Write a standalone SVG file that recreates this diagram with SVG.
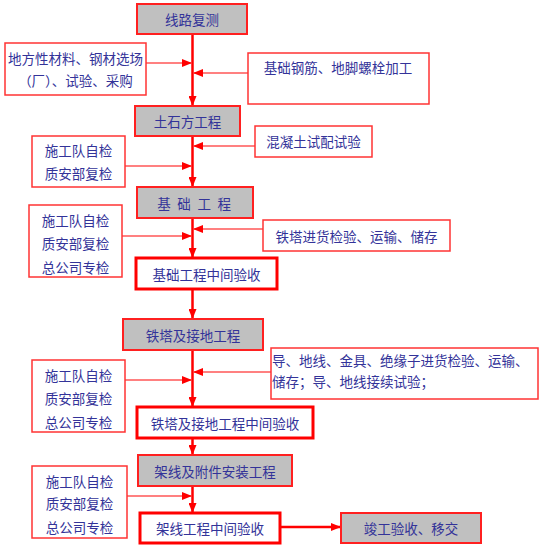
<svg xmlns="http://www.w3.org/2000/svg" width="542" height="547" viewBox="0 0 542 547">
<defs>
<marker id="ah" markerWidth="10" markerHeight="8" refX="9" refY="4" orient="auto" markerUnits="userSpaceOnUse">
<path d="M0,0 L10,4 L0,8 Z" fill="#ff0000"/>
</marker>
</defs>
<style>
text{font-family:"Noto Sans CJK SC","Noto Sans",sans-serif;font-size:13.5px;fill:#333399;dominant-baseline:central}
.c{text-anchor:middle}
.g{fill:#c0c0c0;stroke:#ff2020;stroke-width:2}
.m{fill:#ffffff;stroke:#ff0000;stroke-width:3}
.s{fill:#ffffff;stroke:#ff3333;stroke-width:1.5}
.main{stroke:#ff0000;stroke-width:2.5;fill:none}
.side{stroke:#ff8080;stroke-width:2;fill:none}
</style>
<rect width="542" height="547" fill="#ffffff"/>
<g id="connectors">
<line class="main" x1="192.5" y1="34" x2="192.5" y2="105" marker-end="url(#ah)"/>
<line class="main" x1="192.5" y1="136" x2="192.5" y2="186" marker-end="url(#ah)"/>
<line class="main" x1="192.5" y1="218" x2="192.5" y2="257" marker-end="url(#ah)"/>
<line class="main" x1="192.5" y1="290" x2="192.5" y2="318" marker-end="url(#ah)"/>
<line class="main" x1="192.5" y1="350" x2="192.5" y2="406" marker-end="url(#ah)"/>
<line class="main" x1="192.5" y1="438" x2="192.5" y2="454" marker-end="url(#ah)"/>
<line class="main" x1="192.5" y1="486" x2="192.5" y2="512" marker-end="url(#ah)"/>
<line class="main" x1="280" y1="527" x2="340" y2="527" marker-end="url(#ah)"/>
<line class="side" x1="146" y1="63" x2="191" y2="63" marker-end="url(#ah)"/>
<line class="side" x1="248" y1="73" x2="194" y2="73" marker-end="url(#ah)"/>
<line class="side" x1="255" y1="146" x2="194" y2="146" marker-end="url(#ah)"/>
<line class="side" x1="125" y1="166" x2="191" y2="166" marker-end="url(#ah)"/>
<line class="side" x1="122" y1="236" x2="191" y2="236" marker-end="url(#ah)"/>
<line class="side" x1="263" y1="229" x2="194" y2="229" marker-end="url(#ah)"/>
<line class="side" x1="125" y1="380" x2="191" y2="380" marker-end="url(#ah)"/>
<line class="side" x1="271" y1="372" x2="194" y2="372" marker-end="url(#ah)"/>
<line class="side" x1="127" y1="496" x2="191" y2="496" marker-end="url(#ah)"/>
</g>
<g id="n1"><rect class="g" x="137" y="4" width="110" height="30"/><text class="c" x="192" y="19">线路复测</text></g>
<g id="n2"><rect class="s" x="5" y="43" width="141" height="52"/><text class="c" x="75.5" y="58">地方性材料、钢材选场</text><text class="c" x="75.5" y="80">（厂）、试验、采购</text></g>
<g id="n3"><rect class="s" x="248" y="53" width="181" height="51"/><text class="c" x="338" y="67">基础钢筋、地脚螺栓加工</text></g>
<g id="n4"><rect class="g" x="135" y="106" width="105" height="30"/><text class="c" x="187.5" y="121">土石方工程</text></g>
<g id="n5"><rect class="s" x="255" y="126" width="117" height="31"/><text class="c" x="313.5" y="141">混凝土试配试验</text></g>
<g id="n6"><rect class="s" x="32" y="136" width="93" height="51"/><text class="c" x="78.5" y="150">施工队自检</text><text class="c" x="78.5" y="173">质安部复检</text></g>
<g id="n7"><rect class="g" x="137" y="187" width="116" height="31"/><text class="c" x="195" y="202.5" style="letter-spacing:1.8px">基 础 工 程</text></g>
<g id="n8"><rect class="s" x="29" y="205" width="93" height="72"/><text class="c" x="75.5" y="220">施工队自检</text><text class="c" x="75.5" y="243">质安部复检</text><text class="c" x="75.5" y="267">总公司专检</text></g>
<g id="n9"><rect class="s" x="263" y="220" width="187" height="31"/><text class="c" x="356.5" y="235.5">铁塔进货检验、运输、储存</text></g>
<g id="n10"><rect class="m" x="136" y="258" width="141" height="31"/><text class="c" x="206.5" y="274">基础工程中间验收</text></g>
<g id="n11"><rect class="g" x="123" y="319" width="140" height="31"/><text class="c" x="193" y="334.5">铁塔及接地工程</text></g>
<g id="n12"><rect class="s" x="271" y="348" width="267" height="51"/><text x="272" y="360">导、地线、金具、绝缘子进货检验、运输、</text><text x="272" y="381">储存；导、地线接续试验；</text></g>
<g id="n13"><rect class="s" x="32" y="360" width="93" height="72"/><text class="c" x="78.5" y="375">施工队自检</text><text class="c" x="78.5" y="398">质安部复检</text><text class="c" x="78.5" y="422">总公司专检</text></g>
<g id="n14"><rect class="m" x="137" y="407" width="176" height="31"/><text class="c" x="225" y="422.5">铁塔及接地工程中间验收</text></g>
<g id="n15"><rect class="g" x="138" y="455" width="154" height="31"/><text class="c" x="215" y="470.5">架线及附件安装工程</text></g>
<g id="n16"><rect class="s" x="32" y="466" width="95" height="72"/><text class="c" x="79.5" y="481">施工队自检</text><text class="c" x="79.5" y="503">质安部复检</text><text class="c" x="79.5" y="527">总公司专检</text></g>
<g id="n17"><rect class="m" x="140" y="513" width="140" height="30"/><text class="c" x="210" y="528">架线工程中间验收</text></g>
<g id="n18"><rect class="g" x="341" y="513" width="140" height="30"/><text class="c" x="411" y="528">竣工验收、移交</text></g>
</svg>
